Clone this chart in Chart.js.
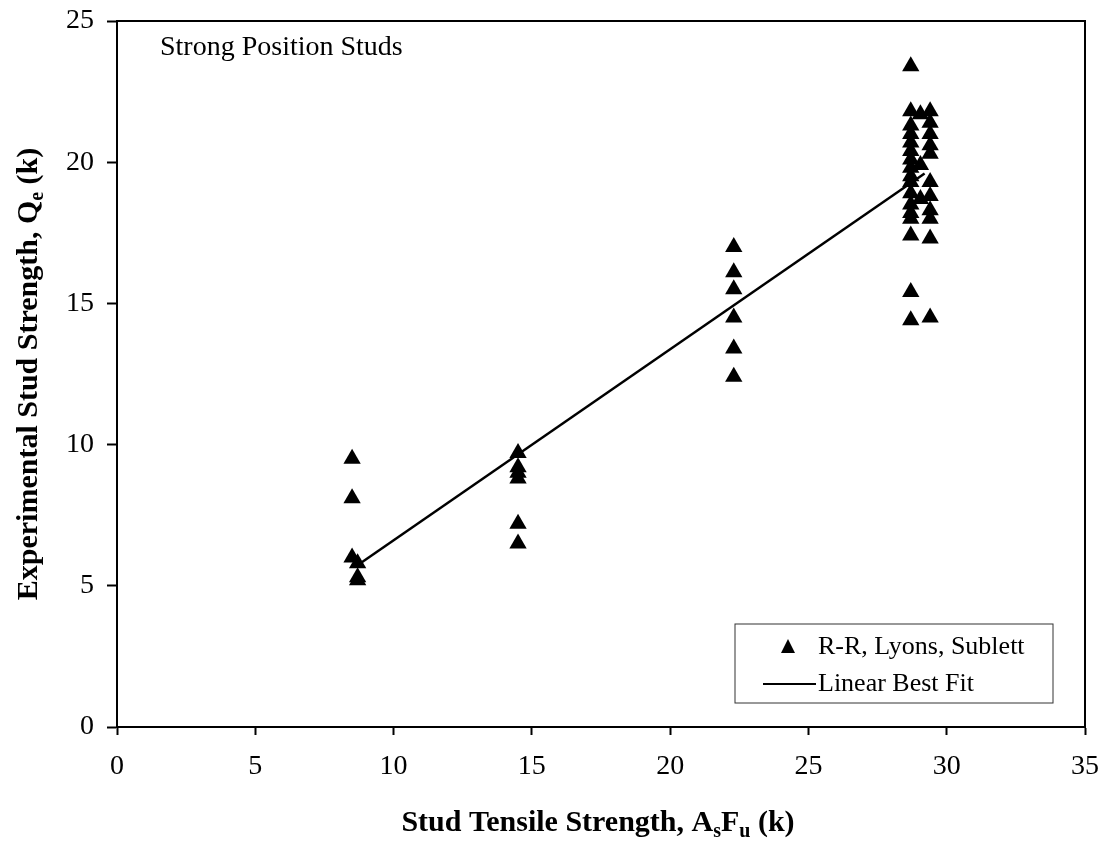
<!DOCTYPE html>
<html>
<head>
<meta charset="utf-8">
<script src="https://cdn.jsdelivr.net/npm/chart.js@4"></script>
<style>
  body { margin: 0; background: #fff; }
  #wrap { width: 1107px; height: 842px; }
</style>
</head>
<body>
<div id="wrap"><canvas id="studChart" width="1107" height="842"></canvas></div>
<script>
// stud tensile strength (k) for each column of points
const groupX = [8.5, 8.7, 14.5, 22.3, 28.7, 29.05, 29.4];
// experimental strength (k) per column
const groupY = [
  [9.5, 8.1, 6.0],
  [5.8, 5.3, 5.2],
  [9.7, 9.2, 9.0, 8.8, 7.2, 6.5],
  [17.0, 16.1, 15.5, 14.5, 13.4, 12.4],
  [23.4, 21.8, 21.3, 21.0, 20.7, 20.4, 20.1, 19.8, 19.5, 19.3, 18.9, 18.5, 18.2, 18.0, 17.4, 15.4, 14.4],
  [21.7, 19.9, 18.7],
  [21.8, 21.4, 21.0, 20.6, 20.3, 19.3, 18.8, 18.3, 18.0, 17.3, 14.5]
];
const fitX = [8.8, 29.2];
const fitY = [5.8, 19.6];
const xTicks = [0, 5, 10, 15, 20, 25, 30, 35];
const yTicks = [0, 5, 10, 15, 20, 25];

const serif = 'Liberation Serif';

const studPoints = [];
groupX.forEach((x, i) => groupY[i].forEach(y => studPoints.push({ x: x, y: y })));
const fitLine = fitX.map((x, i) => ({ x: x, y: fitY[i] }));

// draw text pieces where some are subscripts
function drawParts(ctx, parts, x, y, size) {
  const big = 'bold ' + size + 'px "' + serif + '"';
  const small = 'bold ' + Math.round(size * 0.65) + 'px "' + serif + '"';
  let total = 0;
  parts.forEach(p => { ctx.font = p.sub ? small : big; total += ctx.measureText(p.t).width; });
  let cx = x - total / 2;
  ctx.textAlign = 'left';
  ctx.textBaseline = 'middle';
  parts.forEach(p => {
    ctx.font = p.sub ? small : big;
    ctx.fillText(p.t, cx, p.sub ? y + size * 0.3 : y);
    cx += ctx.measureText(p.t).width;
  });
}

const decorPlugin = {
  id: 'decor',
  afterDraw(chart) {
    const ctx = chart.ctx;
    const a = chart.chartArea;
    ctx.save();
    ctx.strokeStyle = '#000';
    ctx.lineWidth = 2;
    ctx.strokeRect(a.left, a.top, a.right - a.left, a.bottom - a.top);
    ctx.fillStyle = '#000';

    // annotation
    ctx.font = '28px "' + serif + '"';
    ctx.textAlign = 'left';
    ctx.textBaseline = 'middle';
    ctx.fillText('Strong Position Studs', a.left + 43, a.top + 27);

    // axis titles
    drawParts(ctx, [
      { t: 'Stud Tensile Strength, A' }, { t: 's', sub: true }, { t: 'F' }, { t: 'u', sub: true }, { t: ' (k)' }
    ], (a.left + a.right) / 2 - 3, a.bottom + 96, 30);
    ctx.save();
    ctx.translate(29, (a.top + a.bottom) / 2);
    ctx.rotate(-Math.PI / 2);
    drawParts(ctx, [
      { t: 'Experimental Stud Strength, Q' }, { t: 'e', sub: true }, { t: ' (k)' }
    ], 0, 0, 30);
    ctx.restore();

    // legend box
    const L = a.left + 618, T = a.top + 603, R = a.right - 32, B = a.bottom - 24;
    ctx.lineWidth = 1;
    ctx.strokeStyle = '#333';
    ctx.strokeRect(L, T, R - L, B - T);
    const r1 = T + 23, r2 = T + 60;
    ctx.beginPath();
    ctx.moveTo(L + 53, r1 - 8);
    ctx.lineTo(L + 60, r1 + 6);
    ctx.lineTo(L + 46, r1 + 6);
    ctx.closePath();
    ctx.fill();
    ctx.lineWidth = 2;
    ctx.strokeStyle = '#000';
    ctx.beginPath();
    ctx.moveTo(L + 28, r2);
    ctx.lineTo(L + 81, r2);
    ctx.stroke();
    ctx.font = '26px "' + serif + '"';
    ctx.fillText('R-R, Lyons, Sublett', L + 83, r1);
    ctx.fillText('Linear Best Fit', L + 83, r2);
    ctx.restore();
  }
};

new Chart(document.getElementById('studChart'), {
  type: 'scatter',
  data: {
    datasets: [{
      label: 'R-R, Lyons, Sublett',
      data: studPoints,
      pointStyle: 'triangle',
      pointRadius: 10,
      backgroundColor: '#000',
      borderColor: '#000',
      borderWidth: 0
    }, {
      label: 'Linear Best Fit',
      type: 'line',
      data: fitLine,
      borderColor: '#000',
      borderWidth: 2.5,
      pointRadius: 0,
      fill: false
    }]
  },
  options: {
    responsive: false,
    animation: false,
    layout: { padding: { top: 21, right: 22, left: 0, bottom: 0 } },
    plugins: { legend: { display: false }, tooltip: { enabled: false } },
    scales: {
      x: {
        type: 'linear',
        min: 0, max: 35,
        afterFit: s => { s.height = 115; s.paddingLeft = 0; s.paddingRight = 0; },
        afterBuildTicks: s => { s.ticks = xTicks.map(v => ({ value: v })); },
        grid: { drawOnChartArea: false, drawTicks: true, tickLength: 8, tickColor: '#000', tickWidth: 2 },
        border: { color: '#000', width: 2 },
        ticks: { color: '#000', padding: 18, maxRotation: 0, font: { family: serif, size: 28, lineHeight: 1 } }
      },
      y: {
        min: 0, max: 25,
        afterFit: s => { s.width = 117; s.paddingTop = 0; s.paddingBottom = 0; },
        afterBuildTicks: s => { s.ticks = yTicks.map(v => ({ value: v })); },
        grid: { drawOnChartArea: false, drawTicks: true, tickLength: 10, tickColor: '#000', tickWidth: 2 },
        border: { color: '#000', width: 2 },
        ticks: { color: '#000', padding: 13, font: { family: serif, size: 28, lineHeight: 1 } }
      }
    }
  },
  plugins: [decorPlugin]
});
</script>
</body>
</html>
